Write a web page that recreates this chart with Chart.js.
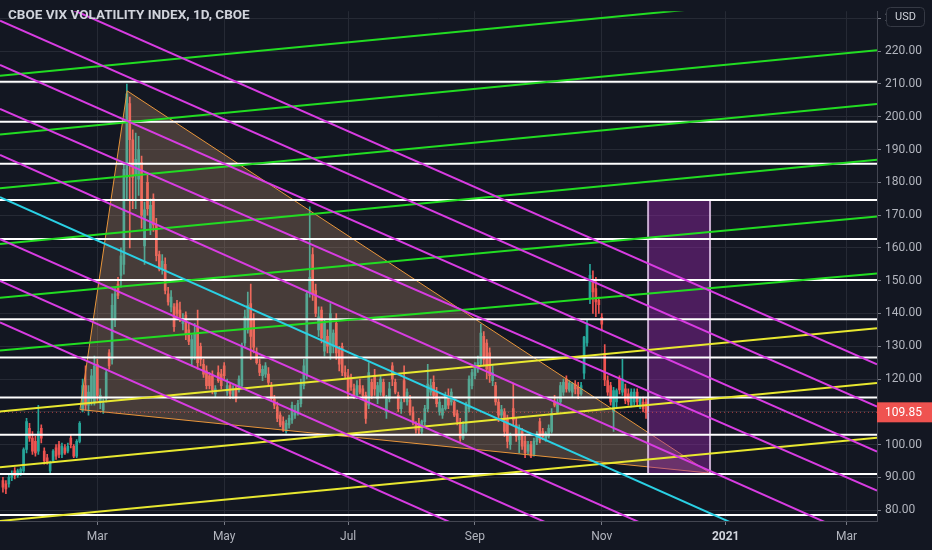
<!DOCTYPE html>
<html>
<head>
<meta charset="utf-8">
<script src="https://cdn.jsdelivr.net/npm/chart.js@4.4.1/dist/chart.umd.min.js"></script>
<style>
  html, body { margin: 0; padding: 0; background: #131722; }
  canvas { display: block; }
</style>
</head>
<body>
<canvas id="chart" width="932" height="550"></canvas>
<script>
// x axis is a bar index (trading days), first candle sits at bar 1
const firstBar = 1
const opens = [89,88,88,90,92,90.5,91,92,98.5,105,102,101,98,105,98,96,92,95,99,100,97,99,98,102,99.5,96.5,101,
  110.5,118,112,114,113,124.5,113,110.5,114,128,126,138,149,151.6,155,181.5,204,193,182,181,186,160.6,180,166,175,167,158,153.5,155,146,142,142,143,141,137,139.5,135,126,127,136,130,124.5,122.5,121,121,115.5,122,121.5,124,116,118,115,117,116.7,118,131,135,143,138,128,124.5,121,121.5,121.5,118,114,111.5,109,107,104,106,107.5,109,110,112.5,118,121.5,146.6,158,147,135,141,128.5,133,128,130,137,129,130,122,121,120,117,115,118,117,115,112,119,121,114,116,119,110,114,124,119,115,111,119.5,113,113.5,110,106,106.5,104,107,111,116,119,116,110,109,111,115,113,113,109.5,106.5,102,104,111,118,121,123,124.8,133,131,128,119.5,118,113,109,110,108,100,111,106,101.5,104,101,98,100,97,101,107,104,101.5,102.5,104,113,110,113,116,120,116.5,116,118.5,117.5,115.5,121.8,131,144.8,150,147.6,144,138.8,127.8,119.5,118,110,113,120,116,117,115.5,112,113,116,111.5,113,113]
const highs = [90,89,91,92,93,92.5,93,99,108,106.5,104,102.5,112,106,99,97,95,98.5,100,101,100.5,100,100.5,103,100,101.5,107,
  120,124,118,123,127,126,117,114,123,129,146,148,151,160,186,210,206,196,195,194,188,174,183,175,176.5,169,159,158,157,148,147,143,144,143.5,140,140.5,137,133.5,137,141,131,126,124,122,122.5,118,124,123,125,120,119,118,118,121,131,141,146.5,149,140,129.5,126,124,125,123.5,119,115,113,110,108.5,107.5,109,113,112,113.5,120,126,147,172.5,160,149,142,142,138,135,143,135,140,130,131,124,123,121.5,118.5,119.5,120,118,116,125,120,123,119,121,120,115,119,125,120,116,114,124,117,115,111.5,107,108,107.5,112,124.5,120,121,117.5,114,112,116,117,117,114,110.5,108,107,113,121,123,125,127,136.7,134.5,132,129.5,124,119,114,112,111,109,103.5,118.8,108,106,105,102.5,101,101,102,104,108,105,104,106,111,115,114,119,120,121,119.5,119,119.5,119,119,133,138,155,153,151,145,140,130.5,121,119,117.5,117,121,126,118.5,117,117,117,117,114.5,114.5,114]
const lows = [85.5,85,87,89,89.5,90,90.5,91.5,97.5,101,97,96.5,97,100.5,94,94,91.3,94.5,95.5,96,96,97,97.5,99,96,96,100.5,
  110,110.5,109,112,112,113.5,111,109.5,113,123,124.5,136,144.5,148,152,175,160,172,172,176,166,155,170,164,165,156,153,152,146,142.5,140.5,134.5,139,137.5,135,132,130.5,124,126,123,124,120.5,117,117,115.5,114.5,119,117,120,115,114,114,113,116,117,130,134,126,128,124.5,121,119.5,120.5,118,113.5,111,107,105.5,104,103.5,105,106.5,108,109,111.5,117,120,145,144,139,133,131,127,128,126,128,126,122.5,121,120,114,116.5,114,114,115.5,114,106.5,111,114,115,112.5,115,114.5,108,113,118,115.5,110,109.5,113,112,109,106,103.5,103,103,106,110,115,114,111.5,109,108,110.5,111,112,108.5,106,101,101.5,103.5,110,117,120,122,124,124,120,119,118,112,107,108,102.5,99,98.5,106,101,97.5,98.5,96,97,96,96.5,100,100.5,101.5,101,102,103.5,111.5,109.5,112,115,116,116,114.5,115.5,114,115,120,130,143,140,139,140,135,118,115,112,104,111.5,115.5,115,112.5,112,111.5,112,112,111,110,108]
const closes = [87,86.5,90,91,90.5,92,92.5,98.5,107,102,98,97.5,104,102,95,94.5,94.5,98,96.5,97,99.5,97.5,99.5,100,96.5,101,106.5,
  118,112,116,121,124,115,115,112.5,122,124,142.5,146,145.5,157.6,184,207,193,181.5,187,190,170,171.6,172,173,167,157.6,153.5,156,147,143.5,145,136,140,138.5,138.5,133.5,131.5,132,134,125,126,121.5,118,118,116.7,117,119.5,118,121,118,115.5,117,114,120,130,139,142.5,133,129.7,125,122,123,124,119,114,112,108,106,104.5,106.5,108,112,110,112.5,118.5,124,146,151,146,140,139,132.5,137,130,140,134,128,124.5,122,121,116,117.5,115,118,116,115,108,122,115,117,118,120,115,114,117,120,116,111,113,114,116,110,107,104.5,104.5,107,111,118.5,118,115,112.5,113,111,115,112,116,109,107,102,106,112,120,122,124,125,134,126,123,121,122,113,109,110.7,104,101,102.5,107.5,102.5,105,99.5,97.5,100,96.5,101,103,101.5,102.5,103.5,105,109.5,112,112.8,118,119,117,118.8,118.5,117,115.5,118,132.8,136.5,151.6,146.6,143.5,142.7,136.7,119.7,116,113,116.5,116.5,116.7,120,113.5,113,116,116,113,114,111,109.85]

// time axis: bar index of the first trading day of each month, and its label
const monthBars = [33, 76, 118, 161, 204, 246, 287]
const monthLabels = ['Mar', 'May', 'Jul', 'Sep', 'Nov', '2021', 'Mar']
const priceTicks = [80, 90, 100, 110, 120, 130, 140, 150, 160, 170, 180, 190, 200, 210, 220, 230]

// drawings: every sloped line runs from edgeBars[0] to edgeBars[1]
const edgeBars = [0, 297.3]
const greenLines = [[212.5, 238.2], [194.6, 220.3], [178.2, 203.9], [161.2, 186.9], [144.8, 169.6], [128.7, 152.2]]
const yellowLines = [[110.1, 135.5], [93.1, 118.8], [76.7, 102.1]]
const magentaLines = [[242.4, 124.5], [229.3, 111.6], [215.8, 97.9], [202.4, 86.0], [188.4, 69.3], [162.7, 44.2], [149.9, 31.6], [137.3, 18.5]]
const cyanLine = [175.5, 56.4]
const levels = [210.7, 198.5, 185.7, 174.6, 162.7, 150.2, 138.2, 126.6, 114.4, 103.0, 91.0, 78.5]
const triangleBars = [27.1, 43.1, 240.7]
const trianglePrices = [110.7, 207.9, 91.3]
const boxBars = [219.7, 240.7]
const boxPrices = [91.0, 174.6]

const UP = '#26a69a'
const DOWN = '#ef5350'
const lastClose = closes[closes.length - 1]

Chart.defaults.font.family = "Roboto, 'Noto Sans', sans-serif"

const candleColors = opens.map((o, i) => (closes[i] >= o ? UP : DOWN))
const wickData = highs.map((h, i) => ({x: firstBar + i, y: [lows[i], h]}))
const bodyData = opens.map((o, i) => {
  let lo = Math.min(o, closes[i])
  let hi = Math.max(o, closes[i])
  if (hi - lo < 0.3) hi = lo + 0.3
  return {x: firstBar + i, y: [lo, hi]}
})

function lineSet(pair, color, width, order) {
  return {
    type: 'line',
    data: [{x: edgeBars[0], y: pair[0]}, {x: edgeBars[1], y: pair[1]}],
    borderColor: color,
    borderWidth: width,
    pointRadius: 0,
    fill: false,
    order: order,
  }
}

const datasets = [
  {
    type: 'bar',
    data: wickData,
    backgroundColor: candleColors,
    grouped: false,
    barPercentage: 1,
    categoryPercentage: 1,
    maxBarThickness: 1,
    order: 30,
  },
  {
    type: 'bar',
    data: bodyData,
    backgroundColor: candleColors,
    grouped: false,
    barPercentage: 1,
    categoryPercentage: 1,
    maxBarThickness: 2,
    order: 29,
  },
  {
    type: 'line',
    data: triangleBars.concat([triangleBars[0]]).map((b, i) => ({x: b, y: trianglePrices.concat([trianglePrices[0]])[i]})),
    borderColor: '#e8953a',
    borderWidth: 1,
    backgroundColor: 'rgba(228, 172, 128, 0.25)',
    fill: 'shape',
    pointRadius: 0,
    order: 20,
  },
  {
    type: 'line',
    data: [
      {x: boxBars[0], y: boxPrices[0]}, {x: boxBars[0], y: boxPrices[1]},
      {x: boxBars[1], y: boxPrices[1]}, {x: boxBars[1], y: boxPrices[0]},
      {x: boxBars[0], y: boxPrices[0]},
    ],
    borderColor: 'rgba(225, 195, 232, 0.85)',
    borderWidth: 2,
    backgroundColor: 'rgba(156, 39, 176, 0.42)',
    fill: 'shape',
    pointRadius: 0,
    order: 19,
  },
  {
    type: 'line',
    data: [{x: edgeBars[0], y: lastClose}, {x: edgeBars[1], y: lastClose}],
    borderColor: 'rgba(239, 83, 80, 0.7)',
    borderWidth: 1,
    borderDash: [1, 3],
    pointRadius: 0,
    order: 18,
  },
]
levels.forEach((p) => datasets.push(lineSet([p, p], '#ffffff', 2, 10)))
yellowLines.forEach((l) => datasets.push(lineSet(l, '#e8e830', 2, 5)))
greenLines.forEach((l) => datasets.push(lineSet(l, '#22dd22', 2, 5)))
magentaLines.forEach((l) => datasets.push(lineSet(l, '#d83ce2', 2, 4)))
datasets.push(lineSet(cyanLine, '#2ad0e4', 2, 4))

const paintBg = {
  id: 'paintBg',
  beforeDraw(chart) {
    const ctx = chart.ctx
    ctx.save()
    ctx.fillStyle = '#131722'
    ctx.fillRect(0, 0, chart.width, chart.height)
    ctx.restore()
  },
}

const overlays = {
  id: 'overlays',
  afterDraw(chart) {
    const ctx = chart.ctx
    const area = chart.chartArea
    ctx.save()
    // title
    ctx.font = "bold 13.5px Roboto, 'Noto Sans', sans-serif"
    ctx.fillStyle = '#d1d4dc'
    ctx.textBaseline = 'middle'
    ctx.textAlign = 'left'
    ctx.fillText('CBOE VIX VOLATILITY INDEX, 1D, CBOE', 8, 16)
    // last price tag
    const y = chart.scales.y.getPixelForValue(lastClose)
    ctx.fillStyle = DOWN
    ctx.fillRect(area.right, y - 10, chart.width - area.right, 20)
    ctx.fillStyle = '#ffffff'
    ctx.font = "12px Roboto, 'Noto Sans', sans-serif"
    ctx.fillText(lastClose.toFixed(2), area.right + 8, y + 1)
    // currency badge
    ctx.fillStyle = '#131722'
    ctx.strokeStyle = '#363a45'
    ctx.lineWidth = 1
    ctx.beginPath()
    ctx.roundRect(area.right + 9.5, 7.5, 38, 19, 4)
    ctx.fill()
    ctx.stroke()
    ctx.fillStyle = '#d1d4dc'
    ctx.font = "11px Roboto, 'Noto Sans', sans-serif"
    ctx.textAlign = 'center'
    ctx.fillText('USD', area.right + 28.5, 17.5)
    ctx.restore()
  },
}

new Chart(document.getElementById('chart'), {
  type: 'bar',
  data: {datasets},
  options: {
    responsive: false,
    animation: false,
    devicePixelRatio: 1,
    layout: {padding: 0},
    plugins: {legend: {display: false}, tooltip: {enabled: false}},
    scales: {
      x: {
        type: 'linear',
        min: edgeBars[0],
        max: edgeBars[1],
        offset: false,
        afterFit: (s) => { s.height = 29 },
        afterBuildTicks: (s) => { s.ticks = monthBars.map((v) => ({value: v})) },
        grid: {color: '#262a35', tickColor: '#787b86', tickLength: 4, offset: false},
        border: {color: '#434651'},
        ticks: {
          autoSkip: false,
          maxRotation: 0,
          padding: 5,
          color: (c) => (c.index === 5 ? '#d1d4dc' : '#b2b5be'),
          font: (c) => ({size: 12, weight: c.index === 5 ? 'bold' : 'normal'}),
          callback: (v, i) => monthLabels[i],
        },
      },
      y: {
        type: 'linear',
        position: 'right',
        min: 76.7,
        max: 232.2,
        beginAtZero: false,
        afterFit: (s) => { s.width = 55 },
        afterBuildTicks: (s) => { s.ticks = priceTicks.map((v) => ({value: v})) },
        grid: {color: '#262a35', tickColor: '#787b86', tickLength: 4},
        border: {color: '#434651'},
        ticks: {
          padding: 4,
          color: '#b2b5be',
          font: {size: 12},
          callback: (v) => v.toFixed(2),
        },
      },
    },
  },
  plugins: [paintBg, overlays],
})
</script>
</body>
</html>
